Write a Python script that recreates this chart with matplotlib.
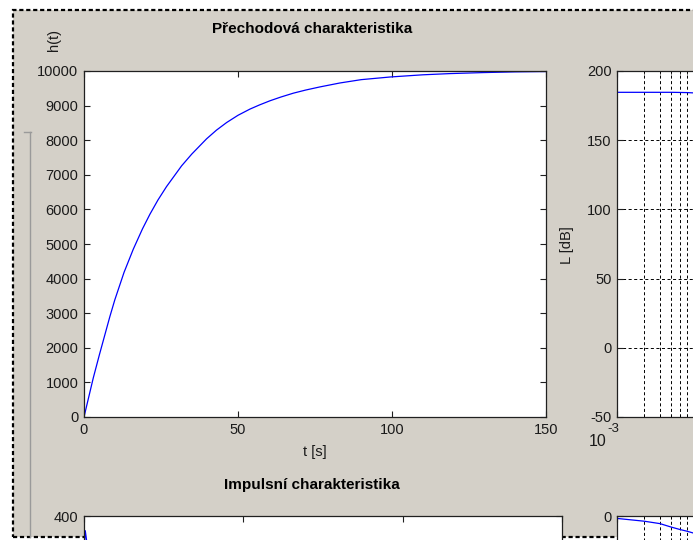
import numpy as np
import matplotlib.pyplot as plt
from matplotlib.patches import Rectangle
from matplotlib.lines import Line2D
from matplotlib.ticker import LogLocator, NullFormatter

plt.rcParams['font.family'] = ['Liberation Sans', 'DejaVu Sans']
plt.rcParams['lines.scale_dashes'] = False
plt.rcParams['axes.unicode_minus'] = False

# step response h(t)
t_step = [0, 3.0, 5.0, 8.4, 10.0, 13.0, 16.0, 19.0, 21.4, 24.0, 26.8, 31.7, 35.0, 39.8, 43.0,
          46.3, 50.0, 53.9, 57.0, 60.4, 64.0, 68.0, 72.0, 76.6, 83.1, 90.0, 99.4, 110.0,
          118.8, 129.5, 140.0, 150.0]
h_step = [0, 1125, 1800, 2903, 3385, 4180, 4850, 5440, 5860, 6270, 6660, 7260, 7600, 8040, 8290,
          8510, 8720, 8900, 9020, 9140, 9250, 9360, 9450, 9540, 9654, 9750, 9827, 9890,
          9925, 9954, 9975, 9985]

# impulse response (only the top is visible)
t_imp = [0, 0.4, 0.8, 1.2, 1.6, 2.5, 5, 10, 20, 40, 80, 150]
g_imp = [360, 383, 372, 352, 338, 325, 305, 265, 180, 80, 15, 1]

# bode magnitude and phase
w_bode = [1e-3, 2e-3, 3e-3, 4e-3, 5e-3, 6e-3, 7e-3, 1e-2, 3e-2, 1e-1, 1e0, 1e1, 1e2]
L_bode = [184.6, 184.6, 184.6, 184.6, 184.5, 184.4, 184.2, 183.8, 180.0, 171.0, 152.0, 132.0, 112.0]
phi_bode = [-0.7, -1.5, -2.2, -3.2, -3.9, -4.4, -4.9, -7.0, -20.0, -55.0, -85.0, -89.5, -90.0]

W, H = 693, 540
bg = '#d4d0c8'
txt = '#1a1a1a'
fs = 10.5


def box(x0, y0, x1, y1):
    return [x0 / W, 1 - y1 / H, (x1 - x0) / W, (y1 - y0) / H]


fig = plt.figure(figsize=(W / 100, H / 100), dpi=100)
fig.patch.set_facecolor('white')

frame = Rectangle((13 / W, 1 - 537 / H), (720 - 13) / W, (537 - 10) / H,
                  transform=fig.transFigure, facecolor=bg, edgecolor='black',
                  lw=1.6, ls=(0, (3, 2)), zorder=0)
fig.add_artist(frame)
fig.add_artist(Line2D([30 / W, 30 / W], [1 - 132 / H, 1 - 537 / H], color='#9a9a9a', lw=1))
fig.add_artist(Line2D([24 / W, 31 / W], [1 - 132 / H, 1 - 132 / H], color='#9a9a9a', lw=1))


def style(ax):
    ax.set_facecolor('white')
    for s in ax.spines.values():
        s.set_color('#202020')
        s.set_linewidth(0.9)
    ax.tick_params(direction='in', top=True, right=True, length=4, width=0.8,
                   labelsize=fs, labelcolor=txt, color='#202020', pad=4)
    ax.tick_params(which='minor', length=2, direction='in', top=True, right=True)


def log_grid(ax):
    ax.xaxis.set_major_locator(LogLocator(base=10))
    ax.xaxis.set_minor_locator(LogLocator(base=10, subs=np.arange(2, 10)))
    ax.xaxis.set_major_formatter(NullFormatter())
    ax.xaxis.set_minor_formatter(NullFormatter())
    ax.grid(True, which='both', axis='x', color='black', lw=0.7, ls=(0, (2.2, 1.8)))
    ax.grid(True, which='major', axis='y', color='black', lw=0.7, ls=(0, (2.2, 1.8)))


# top left: step response
ax1 = fig.add_axes(box(84, 71, 546, 417))
style(ax1)
ax1.plot(t_step, h_step, color='#0000ff', lw=0.9)
ax1.set_xlim(0, 150)
ax1.set_ylim(0, 10000)
ax1.set_xticks([0, 50, 100, 150])
ax1.set_yticks(range(0, 10001, 1000))
fig.text(312 / W, 1 - 29 / H, 'Přechodová charakteristika', ha='center', va='center',
         fontsize=11, fontweight='bold', color='black')
fig.text(54 / W, 1 - 40 / H, 'h(t)', ha='center', va='center', rotation=90,
         fontsize=fs, color=txt)
fig.text(315 / W, 1 - 452 / H, 't [s]', ha='center', va='center', fontsize=fs, color=txt)

# top right: bode magnitude
ax2 = fig.add_axes(box(617, 71, 1067, 417))
style(ax2)
ax2.semilogx(w_bode, L_bode, color='#0000ff', lw=0.9)
ax2.set_xlim(1e-3, 1e2)
ax2.set_ylim(-50, 200)
ax2.set_yticks(range(-50, 201, 50))
log_grid(ax2)
fig.text(567 / W, 1 - 245 / H, 'L [dB]', ha='center', va='center', rotation=90,
         fontsize=fs, color=txt)
fig.text(598 / W, 1 - 441 / H, '10', ha='center', va='center', fontsize=11.5, color=txt)
fig.text(613 / W, 1 - 429 / H, '-3', ha='center', va='center', fontsize=9.5, color=txt)

# bottom left: impulse response (only its top edge is on the canvas)
ax3 = fig.add_axes(box(84, 516, 562, 862))
style(ax3)
ax3.plot(t_imp, g_imp, color='#0000ff', lw=0.9)
ax3.set_xlim(0, 150)
ax3.set_ylim(0, 400)
ax3.set_xticks([0, 50, 100, 150])
ax3.set_yticks([400])
ax3.tick_params(labelbottom=False)
fig.text(312 / W, 1 - 485 / H, 'Impulsní charakteristika', ha='center', va='center',
         fontsize=11, fontweight='bold', color='black')

# bottom right: bode phase
ax4 = fig.add_axes(box(617, 516, 1067, 862))
style(ax4)
ax4.semilogx(w_bode, phi_bode, color='#0000ff', lw=0.9)
ax4.set_xlim(1e-3, 1e2)
ax4.set_ylim(-100, 0)
log_grid(ax4)
ax4.set_yticks([0, -20, -40, -60, -80, -100])
ax4.set_yticklabels(['0', '', '', '', '', ''])

fig.savefig('out.png', dpi=100, facecolor=fig.get_facecolor())
